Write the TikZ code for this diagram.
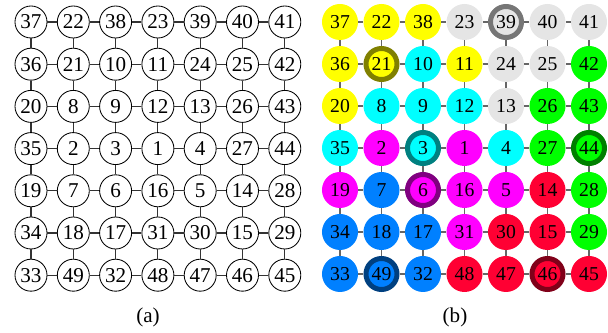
\documentclass[tikz,border=0pt]{standalone}
\usepackage{fontspec}
\setmainfont{Liberation Serif}
\usepackage{tikz}
\usetikzlibrary{positioning}
\definecolor{coreyellow}{RGB}{255, 255, 0}
\definecolor{corecyan}{RGB}{0, 255, 255}
\definecolor{coremagenta}{RGB}{255, 0, 255}
\definecolor{coreblue}{RGB}{0, 128, 255}
\definecolor{corered}{RGB}{255, 0, 51}
\definecolor{coregreen}{RGB}{0, 255, 0}
\definecolor{coregray}{RGB}{229, 229, 229}
\definecolor{rimgray}{RGB}{118, 118, 118}
\definecolor{rimolive}{RGB}{128, 128, 0}
\definecolor{rimteal}{RGB}{0, 128, 128}
\definecolor{rimgreen}{RGB}{0, 128, 0}
\definecolor{rimpurple}{RGB}{128, 0, 128}
\definecolor{rimblue}{RGB}{0, 64, 128}
\definecolor{rimred}{RGB}{128, 0, 25}

\begin{document}
\begin{tikzpicture}[x=0.025cm, y=-0.025cm,
                plain/.style={circle, draw, fill=white, inner sep=0pt,
                              minimum size=0.8cm, line width=0.6pt,
                              font=\fontsize{15}{17}\selectfont},
                dot/.style={circle, inner sep=0pt, minimum size=0.9cm,
                            font=\fontsize{14}{16}\selectfont},
                rim/.style={dot, minimum size=0.775cm, line width=0.125cm, draw=#1},
                yel/.style={dot, fill=coreyellow},
                cya/.style={dot, fill=corecyan},
                mag/.style={dot, fill=coremagenta},
                blu/.style={dot, fill=coreblue},
                red/.style={dot, fill=corered},
                grn/.style={dot, fill=coregreen},
                gry/.style={dot, fill=coregray},
                gryrim/.style={gry, rim=rimgray},
                yelrim/.style={yel, rim=rimolive},
                cyarim/.style={cya, rim=rimteal},
                grnrim/.style={grn, rim=rimgreen},
                magrim/.style={mag, rim=rimpurple},
                blurim/.style={blu, rim=rimblue},
                redrim/.style={red, rim=rimred},
                link/.style={line width=0.8pt, black!80},
                caption/.style={font=\fontsize{15}{17}\selectfont}]
                \useasboundingbox (0,0) rectangle (608,333);

                % (a) plain grid
                \foreach \row [count=\r] in {{37,22,38,23,39,40,41},
                                             {36,21,10,11,24,25,42},
                                             {20,8,9,12,13,26,43},
                                             {35,2,3,1,4,27,44},
                                             {19,7,6,16,5,14,28},
                                             {34,18,17,31,30,15,29},
                                             {33,49,32,48,47,46,45}} {
                    \foreach \lab [count=\c] in \row {
                        \node[plain] (a\r-\c) at (31+42.3*\c-42.3, 22+42.2*\r-42.2) {\lab};
                    }
                }

                % (b) coloured grid
                \foreach \row [count=\r] in {{37/yel,22/yel,38/yel,23/gry,39/gryrim,40/gry,41/gry},
                                             {36/yel,21/yelrim,10/cya,11/yel,24/gry,25/gry,42/grn},
                                             {20/yel,8/cya,9/cya,12/cya,13/gry,26/grn,43/grn},
                                             {35/cya,2/mag,3/cyarim,1/mag,4/cya,27/grn,44/grnrim},
                                             {19/mag,7/blu,6/magrim,16/mag,5/mag,14/red,28/grn},
                                             {34/blu,18/blu,17/blu,31/mag,30/red,15/red,29/grn},
                                             {33/blu,49/blurim,32/blu,48/red,47/red,46/redrim,45/red}} {
                    \foreach \lab/\sty [count=\c] in \row {
                        \node[\sty] (b\r-\c) at (340+41.5*\c-41.5, 22+42.0*\r-42.0) {\lab};
                    }
                }

                % edges between neighbours
                \foreach \r in {1,...,7} {
                    \foreach \c [evaluate=\c as \d using int(\c+1)] in {1,...,6} {
                        \draw[link] (a\r-\c) -- (a\r-\d);
                        \draw[link] (a\c-\r) -- (a\d-\r);
                        \draw[link, black!60] (b\r-\c) -- (b\r-\d);
                        \draw[link, black!60] (b\c-\r) -- (b\d-\r);
                    }
                }

                \node[caption] (capa) at (148,317) {(a)};
                \node[caption] (capb) at (455,317) {(b)};
            \end{tikzpicture}
\end{document}
